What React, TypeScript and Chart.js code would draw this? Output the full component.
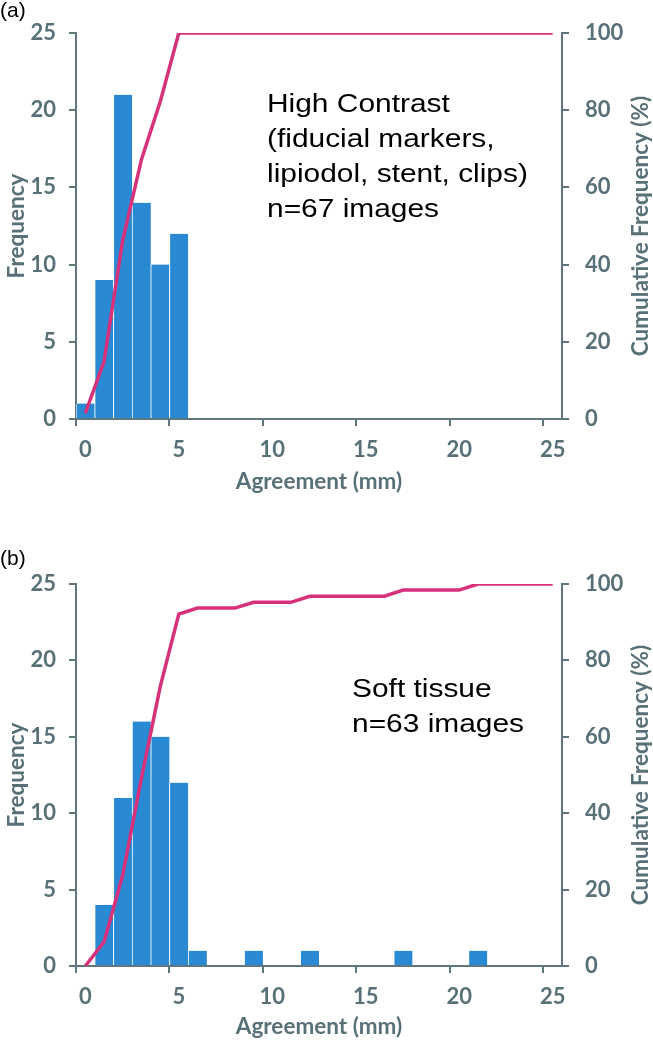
import React, { useEffect, useRef } from "react";
import { Chart, registerables } from "chart.js";

Chart.register(...registerables);

// ---- data ----
const bins = ["0", "1", "2", "3", "4", "5", "6", "7", "8", "9", "10", "11", "12", "13", "14", "15", "16", "17", "18", "19", "20", "21", "22", "23", "24", "25"];

const countsA = [1, 9, 21, 14, 10, 12, 0, 0, 0, 0, 0, 0, 0, 0, 0, 0, 0, 0, 0, 0, 0, 0, 0, 0, 0, 0];
const cumA = [1.5, 14.9, 46.3, 67.2, 82.1, 100, 100, 100, 100, 100, 100, 100, 100, 100, 100, 100, 100, 100, 100, 100, 100, 100, 100, 100, 100, 100];

const countsB = [0, 4, 11, 16, 15, 12, 1, 0, 0, 1, 0, 0, 1, 0, 0, 0, 0, 1, 0, 0, 0, 1, 0, 0, 0, 0];
const cumB = [0, 6.3, 23.8, 49.2, 73.0, 92.1, 93.7, 93.7, 93.7, 95.2, 95.2, 95.2, 96.8, 96.8, 96.8, 96.8, 96.8, 98.4, 98.4, 98.4, 98.4, 100, 100, 100, 100, 100];

const noteA = ["High Contrast", "(fiducial markers,", "lipiodol, stent, clips)", "n=67 images"];
const noteB = ["Soft tissue", "n=63 images"];

const xTitle = "Agreement (mm)";
const yTitle = "Frequency";
const y2Title = "Cumulative Frequency (%)";

// ---- styles ----
const AXIS = "#5f767e";
const AXIS_TEXT = "#587078";
const BAR = "#2a89d3";
const LINE = "#d8317c";
const TICK_FONT = { family: "Lato", size: 22, weight: "bold" as const };
const TITLE_FONT = { family: "Lato", size: 22.5, weight: "bold" as const };

type PanelProps = {
  top: number;
  height: number;
  padTop: number;
  axisH: number;
  titlePad: number;
  counts: number[];
  cum: number[];
  tag: string;
  tagY: number;
  note: string[];
  noteX: number;
  noteY: number;
};

function Panel(p: PanelProps) {
  const ref = useRef<HTMLCanvasElement>(null);
  useEffect(() => {
    if (!ref.current) return;
    const textPlugin = {
      id: "panelText",
      afterDraw(chart: any) {
        const { ctx, chartArea } = chart;
        ctx.save();
        ctx.fillStyle = "#000";
        ctx.textAlign = "left";
        ctx.textBaseline = "alphabetic";
        ctx.font = '21px "Liberation Sans", Arial, sans-serif';
        ctx.fillText(p.tag, 0, p.tagY);
        ctx.font = '26px "Liberation Sans", Arial, sans-serif';
        p.note.forEach((line, i) => {
          ctx.save();
          ctx.translate(chartArea.left + p.noteX, chartArea.top + p.noteY + i * 35);
          ctx.scale(1.15, 1);
          ctx.fillText(line, 0, 0);
          ctx.restore();
        });
        const y2 = chart.scales.y2;
        ctx.save();
        ctx.fillStyle = AXIS_TEXT;
        ctx.font = `bold ${TITLE_FONT.size}px Lato`;
        ctx.translate(y2.right - 12, (chartArea.top + chartArea.bottom) / 2);
        ctx.rotate(-Math.PI / 2);
        ctx.textAlign = "center";
        ctx.textBaseline = "middle";
        ctx.fillText(y2Title, 0, 0);
        ctx.restore();
        ctx.restore();
      },
    };

    const chart = new Chart(ref.current, {
      type: "bar",
      data: {
        labels: bins,
        datasets: [
          {
            type: "line",
            data: p.cum,
            yAxisID: "y2",
            borderColor: LINE,
            borderWidth: 3.5,
            pointRadius: 0,
            tension: 0,
            fill: false,
            order: 0,
          } as any,
          {
            type: "bar",
            data: p.counts,
            yAxisID: "y",
            backgroundColor: BAR,
            borderColor: "rgba(255,255,255,0.85)",
            borderWidth: { left: 1, right: 0, top: 0, bottom: 0 },
            borderSkipped: false,
            barPercentage: 1,
            categoryPercentage: 1,
            order: 1,
          } as any,
        ],
      },
      options: {
        responsive: false,
        animation: false,
        events: [],
        layout: { padding: { top: p.padTop, left: 0, right: 0, bottom: 0 } },
        plugins: { legend: { display: false }, tooltip: { enabled: false } },
        scales: {
          x: {
            type: "category",
            offset: true,
            grid: {
              offset: true,
              drawOnChartArea: false,
              drawTicks: true,
              tickLength: 7,
              lineWidth: 2,
              color: (ctx: any) => (ctx.index % 5 === 0 ? AXIS : "rgba(0,0,0,0)"),
            },
            border: { display: true, color: AXIS, width: 2 },
            ticks: {
              autoSkip: false,
              maxRotation: 0,
              minRotation: 0,
              padding: 11,
              color: AXIS_TEXT,
              font: TICK_FONT,
              callback: function (this: any, value: any, index: number) {
                return index % 5 === 0 ? this.getLabelForValue(value) : "";
              },
            },
            title: {
              display: true,
              text: xTitle,
              color: AXIS_TEXT,
              font: TITLE_FONT,
              padding: { top: 0, bottom: p.titlePad },
            },
            afterFit: (s: any) => {
              s.height = p.axisH;
              s.paddingLeft = 0;
              s.paddingRight = 0;
            },
          },
          y: {
            position: "left",
            min: 0,
            max: 25,
            ticks: { stepSize: 5, padding: 13, color: AXIS_TEXT, font: TICK_FONT },
            grid: { drawOnChartArea: false, drawTicks: true, tickLength: 7, lineWidth: 2, color: AXIS },
            border: { display: true, color: AXIS, width: 2 },
            title: {
              display: true,
              text: yTitle,
              color: AXIS_TEXT,
              font: TITLE_FONT,
              padding: { top: 3, bottom: 0 },
            },
            afterFit: (s: any) => {
              s.width = 76;
              s.paddingTop = 0;
              s.paddingBottom = 0;
            },
          },
          y2: {
            position: "right",
            min: 0,
            max: 100,
            ticks: { stepSize: 20, padding: 16, color: AXIS_TEXT, font: TICK_FONT },
            grid: { drawOnChartArea: false, drawTicks: true, tickLength: 7, lineWidth: 2, color: AXIS },
            border: { display: true, color: AXIS, width: 2 },
            afterFit: (s: any) => {
              s.width = 91;
              s.paddingTop = 0;
              s.paddingBottom = 0;
            },
          },
        },
      } as any,
      plugins: [textPlugin],
    });
    return () => chart.destroy();
  }, []);
  return (
    <div style={{ position: "absolute", left: 0, top: p.top, width: 653, height: p.height }}>
      <canvas ref={ref} width={653} height={p.height} style={{ display: "block" }} />
    </div>
  );
}

export default function App() {
  return (
    <div style={{ position: "absolute", left: 0, top: 0, width: 653, height: 1050, background: "#fff" }}>
      <Panel
        top={0}
        height={510}
        padTop={33}
        axisH={91}
        titlePad={15}
        counts={countsA}
        cum={cumA}
        tag="(a)"
        tagY={17}
        note={noteA}
        noteX={191}
        noteY={79}
      />
      <Panel
        top={525}
        height={525}
        padTop={59}
        axisH={84}
        titlePad={10}
        counts={countsB}
        cum={cumB}
        tag="(b)"
        tagY={40}
        note={noteB}
        noteX={276}
        noteY={113}
      />
    </div>
  );
}
